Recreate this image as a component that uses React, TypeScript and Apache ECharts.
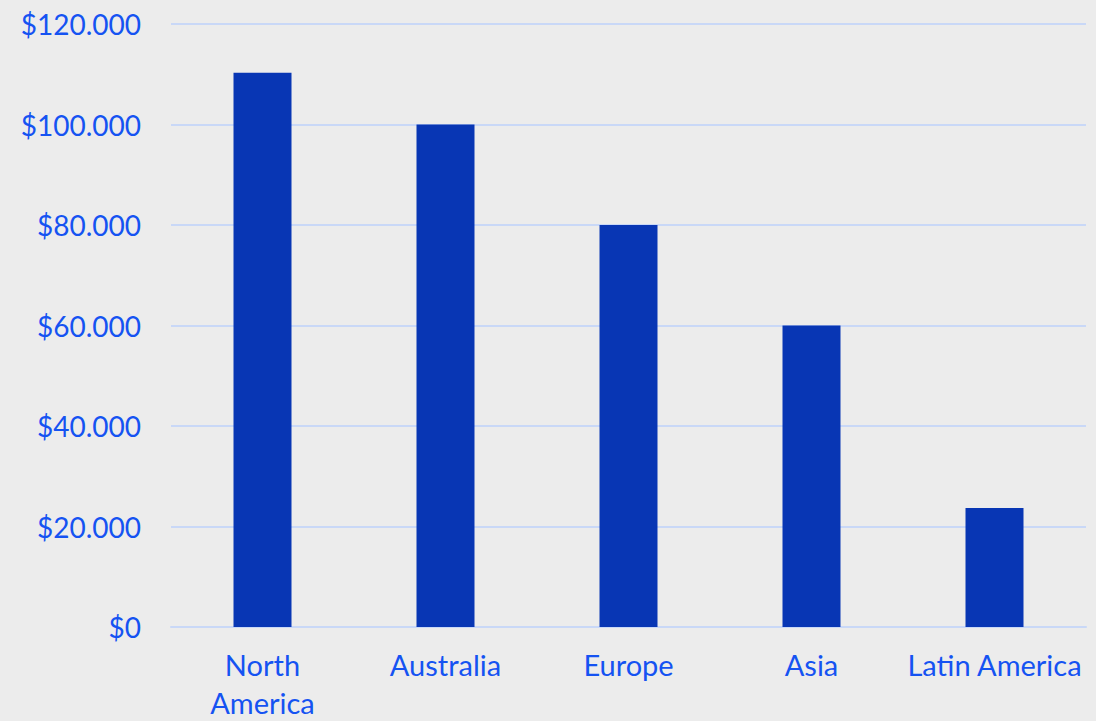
import React, { useEffect, useRef } from "react";
import * as echarts from "echarts";

const categories = ["North America", "Australia", "Europe", "Asia", "Latin America"];
const values = [110300, 100000, 80000, 60000, 23700];
const yTicks = [0, 20000, 40000, 60000, 80000, 100000, 120000];

const fmtMoney = (v: number) =>
  "$" + String(Math.round(v)).replace(/\B(?=(\d{3})+(?!\d))/g, ".");

export default function App() {
  const ref = useRef<HTMLDivElement>(null);
  useEffect(() => {
    document.body.style.margin = "0";
    document.body.style.background = "#ececec";
    const chart = echarts.init(ref.current!, null, { renderer: "svg" });
    chart.setOption({
      animation: false,
      backgroundColor: "#ececec",
      textStyle: { fontFamily: "Lato" },
      grid: { left: 171, right: 10, top: 24, bottom: 90, containLabel: false },
      xAxis: {
        type: "category",
        data: categories,
        axisLine: { show: true, lineStyle: { color: "#c9d8f7", width: 2 } },
        axisTick: { show: false },
        axisLabel: {
          interval: 0,
          margin: 18,
          color: "#1553f2",
          fontSize: 29,
          lineHeight: 38,
          fontFamily: "Lato",
          formatter: (v: string) => (v === "North America" ? "North\nAmerica" : v),
        },
      },
      yAxis: {
        type: "value",
        min: yTicks[0],
        max: yTicks[yTicks.length - 1],
        interval: 20000,
        axisLine: { show: false },
        axisTick: { show: false },
        splitLine: { lineStyle: { color: "#c9d8f7", width: 2 } },
        axisLabel: {
          margin: 30,
          color: "#1553f2",
          fontSize: 28,
          fontFamily: "Lato",
          formatter: (v: number) => fmtMoney(v),
        },
      },
      series: [
        {
          type: "bar",
          data: values,
          barWidth: 58,
          itemStyle: { color: "#0836b4" },
        },
      ],
    });
    return () => chart.dispose();
  }, []);
  return <div ref={ref} style={{ width: 1096, height: 721 }} />;
}
